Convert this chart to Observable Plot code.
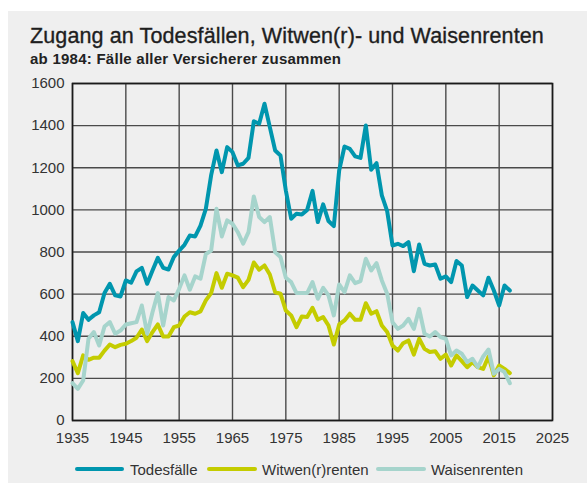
<!DOCTYPE html>
<html>
<head>
<meta charset="utf-8">
<script src="https://cdn.jsdelivr.net/npm/d3@7"></script>
<script src="https://cdn.jsdelivr.net/npm/@observablehq/plot@0.6"></script>
<style>
  html, body { margin: 0; padding: 0; background: #ffffff; width: 587px; height: 483px; overflow: hidden; }
  body { position: relative; font-family: "Liberation Sans", Arial, Helvetica, sans-serif; color: #222; }
  #bg { position: absolute; left: 8px; top: 11px; right: 0; bottom: 0; background: #efefef; }
  .title { position: absolute; left: 30px; top: 25.5px; font-size: 21.5px; line-height: 21.5px; letter-spacing: 0.12px; white-space: nowrap; color: #1e1e1e; -webkit-text-stroke: 0.35px #1e1e1e; }
  .subtitle { position: absolute; left: 30px; top: 50.8px; font-size: 15px; line-height: 15px; letter-spacing: 0.25px; font-weight: bold; white-space: nowrap; color: #222; }
  #chart { position: absolute; left: 0; top: 70px; }
  .sw { position: absolute; height: 4px; border-radius: 2px; top: 467.3px; }
  .lt { position: absolute; top: 462.3px; font-size: 15px; line-height: 15px; white-space: nowrap; color: #333; }
</style>
</head>
<body>
<div id="bg"></div>
<div class="title">Zugang an Todesfällen, Witwen(r)- und Waisenrenten</div>
<div class="subtitle">ab 1984: Fälle aller Versicherer zusammen</div>
<div id="chart"></div>
<div id="legend"></div>
<script>
const years = [1935,1936,1937,1938,1939,1940,1941,1942,1943,1944,
  1945,1946,1947,1948,1949,1950,1951,1952,1953,1954,
  1955,1956,1957,1958,1959,1960,1961,1962,1963,1964,
  1965,1966,1967,1968,1969,1970,1971,1972,1973,1974,
  1975,1976,1977,1978,1979,1980,1981,1982,1983,1984,
  1985,1986,1987,1988,1989,1990,1991,1992,1993,1994,
  1995,1996,1997,1998,1999,2000,2001,2002,2003,2004,
  2005,2006,2007,2008,2009,2010,2011,2012,2013,2014,
  2015,2016,2017];

const todesfaelle = [467,377,510,478,499,514,605,649,594,589,
  665,654,708,725,649,712,772,725,717,776,
  807,834,878,874,925,1005,1165,1282,1179,1298,
  1274,1211,1219,1247,1421,1409,1504,1393,1282,1258,
  1092,958,982,978,1000,1090,942,1026,947,923,
  1187,1301,1290,1254,1247,1401,1190,1222,1069,994,
  831,839,828,847,709,836,744,736,741,673,
  684,657,757,736,586,641,617,594,678,617,
  546,641,617];

const witwenrenten = [282,225,309,288,298,298,332,361,348,359,
  364,377,393,432,377,420,456,399,399,443,
  451,494,514,507,518,570,605,700,630,697,
  689,678,633,668,750,716,736,693,609,602,
  522,499,443,494,491,535,478,491,451,361,
  456,475,507,478,478,557,507,519,451,420,
  356,332,367,380,313,388,340,325,329,293,
  313,261,309,282,253,277,253,245,304,214,
  261,245,225];

const waisenrenten = [177,150,190,388,420,356,446,467,412,427,
  456,462,467,546,412,514,605,451,586,570,
  625,689,621,684,673,790,807,1005,874,950,
  934,894,839,894,1064,966,942,966,799,776,
  678,657,605,605,605,657,578,630,594,499,
  646,609,689,652,662,768,712,747,665,602,
  467,435,451,483,435,530,412,399,420,396,
  388,309,332,317,277,293,253,304,337,222,
  245,230,177];

const seriesNames = ["Todesfälle", "Witwen(r)renten", "Waisenrenten"];
const seriesColors = ["#0096ae", "#c4cc00", "#a6d4cc"];
const xTicks = [1935,1945,1955,1965,1975,1985,1995,2005,2015,2025];
const yTicks = [0,200,400,600,800,1000,1200,1400,1600];

const seriesValues = [todesfaelle, witwenrenten, waisenrenten];
const data = seriesNames.flatMap((s, i) =>
  years.map((y, j) => ({year: y, value: seriesValues[i][j], series: s})));

const chart = Plot.plot({
  width: 587,
  height: 390,
  marginLeft: 72,
  marginRight: 35,
  marginTop: 13,
  marginBottom: 40,
  style: {background: "transparent", fontSize: "15px", fontFamily: "'Liberation Sans', Arial, sans-serif", color: "#333", overflow: "visible"},
  x: {domain: [1935, 2025], ticks: xTicks, tickFormat: d => String(d), tickSize: 0, tickPadding: 12, label: null},
  y: {domain: [0, 1600], ticks: yTicks, tickFormat: d => String(d), tickSize: 0, tickPadding: 8, label: null},
  color: {domain: seriesNames, range: seriesColors},
  marks: [
    Plot.ruleX(xTicks, {stroke: "#4a4a4a", strokeWidth: 1.4}),
    Plot.ruleY(yTicks, {stroke: "#4a4a4a", strokeWidth: 1.4}),
    Plot.frame({stroke: "#1a1a1a", strokeWidth: 1.6}),
    Plot.lineY(data, {x: "year", y: "value", z: "series", stroke: "series", strokeWidth: 4, strokeLinejoin: "round", strokeLinecap: "round"})
  ]
});
document.getElementById("chart").appendChild(chart);

// legend
const legend = document.getElementById("legend");
const swX = [75, 207, 376];
const swW = [49, 50, 50];
const txX = [130, 262, 431];
seriesNames.forEach((s, i) => {
  const sw = document.createElement("div");
  sw.className = "sw";
  sw.style.left = swX[i] + "px";
  sw.style.width = swW[i] + "px";
  sw.style.background = seriesColors[i];
  legend.appendChild(sw);
  const t = document.createElement("div");
  t.className = "lt";
  t.style.left = txX[i] + "px";
  t.textContent = s;
  legend.appendChild(t);
});
</script>
</body>
</html>
